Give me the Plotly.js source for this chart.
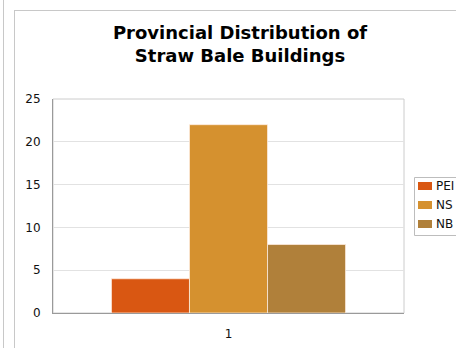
<!DOCTYPE html>
<html>
<head>
<meta charset="utf-8">
<script src="https://cdn.plot.ly/plotly-3.0.1.min.js"></script>
<style>
  html, body { margin: 0; padding: 0; background: #fff; }
  #wrap { position: relative; width: 456px; height: 348px; overflow: hidden; }
  /* page frame lines around the chart panel */
  #edge { position: absolute; left: 3px; top: 0; width: 0; height: 348px; border-left: 1px solid #c8c8c8; }
  #panel { position: absolute; left: 14px; top: 10px; width: 460px; height: 360px;
           border-left: 1px solid #c8c8c8; border-top: 1px solid #c8c8c8; }
  #chart { position: absolute; left: 0; top: 0; width: 456px; height: 348px; }
</style>
</head>
<body>
<div id="wrap">
  <div id="edge"></div>
  <div id="panel"></div>
  <div id="chart"></div>
</div>
<script>
// Straw bale buildings per province
const categories = ['1'];
const provinces = ['PEI', 'NS', 'NB'];
const counts = [4, 22, 8];
const colors = ['#d95712', '#d5912f', '#b0803a'];
const yTicks = [0, 5, 10, 15, 20, 25];

const W = 456, H = 348;
const margin = { l: 53, r: 52, t: 99, b: 35 };
const plotW = W - margin.l - margin.r;
const plotH = H - margin.t - margin.b;
// pixel -> paper helpers for the hand-built legend
const px = x => (x - margin.l) / plotW;
const py = y => (H - margin.b - y) / plotH;

const traces = provinces.map((p, i) => ({
  type: 'bar',
  name: p,
  x: categories,
  y: [counts[i]],
  marker: { color: colors[i], line: { color: 'rgba(255,238,225,0.75)', width: 1 } },
  hoverinfo: 'name+y',
  showlegend: false
}));

// legend: framed box with swatches and labels
const shapes = [
  { type: 'rect', xref: 'paper', yref: 'paper', x0: 0, x1: 1, y0: 0, y1: 1,
    line: { color: '#cccccc', width: 1 }, layer: 'below' },
  { type: 'rect', xref: 'paper', yref: 'paper', x0: px(414.5), x1: px(470), y0: py(177.5), y1: py(235.5),
    line: { color: '#bdbdbd', width: 1 }, fillcolor: '#ffffff' }
];
const annotations = [];
provinces.forEach((p, i) => {
  const cy = 186 + i * 19;
  shapes.push({ type: 'rect', xref: 'paper', yref: 'paper',
    x0: px(418), x1: px(432), y0: py(cy - 4), y1: py(cy + 4),
    line: { width: 0 }, fillcolor: colors[i] });
  annotations.push({ xref: 'paper', yref: 'paper', x: px(434), y: py(cy),
    xanchor: 'left', yanchor: 'middle', text: p, showarrow: false,
    font: { family: 'DejaVu Sans, Verdana, sans-serif', size: 12, color: '#111' } });
});

const layout = {
  width: W, height: H,
  margin: Object.assign({ autoexpand: false }, margin),
  paper_bgcolor: 'rgba(0,0,0,0)',
  plot_bgcolor: '#ffffff',
  title: {
    text: 'Provincial Distribution of<br>Straw Bale Buildings',
    font: { family: 'DejaVu Sans, Verdana, sans-serif', size: 18, color: '#000', weight: 'bold' },
    xref: 'container', yref: 'container', x: 240 / W, xanchor: 'center',
    y: 1 - 39 / H, yanchor: 'top'
  },
  barmode: 'group',
  bargap: 0.333,
  bargroupgap: 0,
  showlegend: false,
  xaxis: {
    type: 'category',
    showline: true, linecolor: '#9a9a9a', linewidth: 1,
    ticks: '', ticklabelstandoff: 10,
    tickfont: { family: 'DejaVu Sans, Verdana, sans-serif', size: 12, color: '#111' },
    showgrid: false, zeroline: false, fixedrange: true
  },
  yaxis: {
    range: [0, 25], tickvals: yTicks, ticktext: yTicks.map(String),
    showline: true, linecolor: '#9a9a9a', linewidth: 1,
    gridcolor: '#e2e2e2', gridwidth: 1, zeroline: false,
    ticks: '', ticklabelstandoff: 9,
    tickfont: { family: 'DejaVu Sans, Verdana, sans-serif', size: 12, color: '#111' },
    fixedrange: true
  },
  shapes: shapes,
  annotations: annotations
};

Plotly.newPlot('chart', traces, layout, { displayModeBar: false, staticPlot: true });
</script>
</body>
</html>
